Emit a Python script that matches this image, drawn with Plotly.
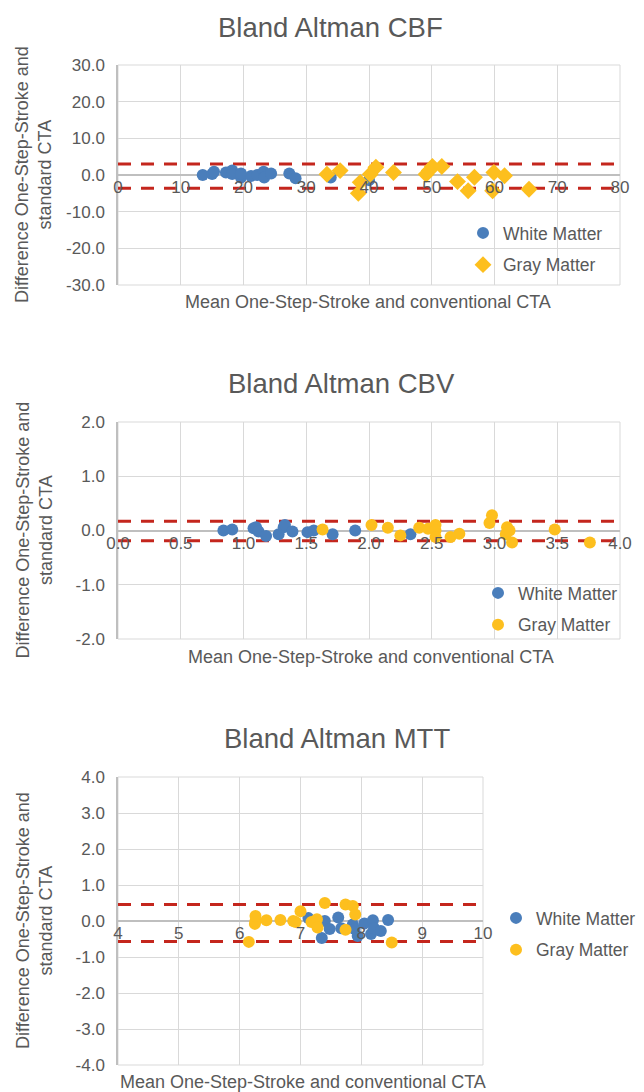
import plotly.graph_objects as go

W, H = 644, 1092
OFF = 8  # default page body margin
FW, FH = W - OFF, H - OFF
FONT = "Liberation Sans, Arial, sans-serif"
TXT = "#595959"
BLUE = "#4A7EBB"
GOLD = "#FDBF1E"
RED = "#C4261D"
GRID = "#D9D9D9"
AXIS = "#BFBFBF"

# ---------------- data ----------------
series_names = ["White Matter", "Gray Matter"]

# CBF
cbf_wm_mean = [13.5, 15.0, 15.3, 17.2, 18.2, 18.2, 19.6, 19.6, 21.2, 22.2, 23.2, 23.3, 24.4, 27.3, 28.3, 33.9, 40.0]
cbf_wm_diff = [0.0, 0.3, 0.9, 0.7, 1.2, 0.3, -0.7, 0.4, -0.3, 0.0, 0.9, -0.7, 0.4, 0.4, -0.9, -0.7, -1.4]
cbf_gm_mean = [33.3, 35.4, 38.3, 38.6, 40.2, 41.1, 43.9, 49.1, 49.6, 50.1, 51.6, 54.1, 55.8, 56.8, 59.7, 59.9, 61.6, 65.5]
cbf_gm_diff = [0.2, 1.2, -5.0, -2.0, 0.2, 2.1, 0.7, 0.2, 1.2, 2.3, 2.3, -1.8, -4.3, -0.6, -4.3, 0.7, -0.2, -3.9]
cbf_limits = [3.0, -3.6]
cbf_x_ticks = [0, 10, 20, 30, 40, 50, 60, 70, 80]
cbf_y_ticks = [-30, -20, -10, 0, 10, 20, 30]

# CBV
cbv_wm_mean = [0.84, 0.91, 1.08, 1.10, 1.12, 1.18, 1.28, 1.32, 1.33, 1.39, 1.51, 1.56, 1.71, 1.89, 2.33]
cbv_wm_diff = [0.00, 0.02, 0.04, 0.06, -0.02, -0.10, -0.07, 0.06, 0.10, -0.02, -0.03, 0.00, -0.07, 0.00, -0.07]
cbv_gm_mean = [1.63, 2.02, 2.15, 2.25, 2.40, 2.47, 2.53, 2.53, 2.53, 2.65, 2.72, 2.96, 2.98, 3.10, 3.09, 3.12, 3.14, 3.48, 3.76]
cbv_gm_diff = [0.02, 0.10, 0.05, -0.09, 0.05, 0.03, 0.10, 0.00, -0.12, -0.12, -0.06, 0.14, 0.28, 0.06, -0.07, 0.00, -0.22, 0.02, -0.22]
cbv_limits = [0.17, -0.19]
cbv_x_ticks = [0.0, 0.5, 1.0, 1.5, 2.0, 2.5, 3.0, 3.5, 4.0]
cbv_y_ticks = [-2, -1, 0, 1, 2]

# MTT
mtt_wm_mean = [7.13, 7.35, 7.40, 7.48, 7.62, 7.67, 7.86, 7.89, 7.94, 8.05, 8.16, 8.19, 8.21, 8.32, 8.44]
mtt_wm_diff = [0.08, -0.47, 0.00, -0.22, 0.10, -0.20, -0.10, -0.22, -0.42, -0.07, -0.36, 0.02, -0.20, -0.28, 0.03]
mtt_gm_mean = [6.15, 6.25, 6.26, 6.26, 6.44, 6.67, 6.88, 6.92, 7.00, 7.18, 7.27, 7.28, 7.40, 7.74, 7.74, 7.86, 7.90, 8.50]
mtt_gm_diff = [-0.58, -0.08, 0.00, 0.14, 0.02, 0.03, 0.00, -0.03, 0.27, -0.03, 0.05, -0.18, 0.50, 0.46, -0.24, 0.42, 0.18, -0.60]
mtt_limits = [0.46, -0.57]
mtt_x_ticks = [4, 5, 6, 7, 8, 9, 10]
mtt_y_ticks = [-4, -3, -2, -1, 0, 1, 2, 3, 4]

titles = ["Bland Altman CBF", "Bland Altman CBV", "Bland Altman MTT"]
x_title = "Mean One-Step-Stroke and conventional CTA"
y_title = "Difference One-Step-Stroke and<br>standard CTA"

# ---------------- layout helpers (page-pixel boxes) ----------------
def fx(p):
    return (p - OFF) / FW

def fy(p):
    return 1 - (p - OFF) / FH

panels = [
    dict(data=(cbf_wm_mean, cbf_wm_diff, cbf_gm_mean, cbf_gm_diff), limits=cbf_limits,
         xt=cbf_x_ticks, yt=cbf_y_ticks, xfmt="{:.0f}", gm_symbol="diamond",
         box=(118, 620, 65, 285), title_pos=(330, 28), xtitle_pos=(368, 302),
         legend=(503, 231)),
    dict(data=(cbv_wm_mean, cbv_wm_diff, cbv_gm_mean, cbv_gm_diff), limits=cbv_limits,
         xt=cbv_x_ticks, yt=cbv_y_ticks, xfmt="{:.1f}", gm_symbol="circle",
         box=(118, 620, 422, 639), title_pos=(341, 383), xtitle_pos=(371, 657),
         legend=(518, 591)),
    dict(data=(mtt_wm_mean, mtt_wm_diff, mtt_gm_mean, mtt_gm_diff), limits=mtt_limits,
         xt=mtt_x_ticks, yt=mtt_y_ticks, xfmt="{:.0f}", gm_symbol="circle",
         box=(118, 483, 777, 1065), title_pos=(337, 738), xtitle_pos=(303, 1082),
         legend=(536, 916)),
]

fig = go.Figure()
layout = dict(
    width=FW, height=FH, autosize=False,
    margin=dict(l=0, r=0, t=0, b=0, autoexpand=False),
    paper_bgcolor="white", plot_bgcolor="white",
    font=dict(family=FONT, color=TXT, size=17),
    showlegend=True,
)
shapes = []
annotations = []

for i, p in enumerate(panels, start=1):
    sfx = "" if i == 1 else str(i)
    xa, ya = "x" + sfx, "y" + sfx
    lg = "legend" + sfx
    wm_x, wm_y, gm_x, gm_y = p["data"]
    x0, x1, yt, yb = p["box"]
    xdom = [fx(x0), fx(x1)]
    ydom = [fy(yb), fy(yt)]
    xr = [p["xt"][0], p["xt"][-1]]
    yr = [p["yt"][0], p["yt"][-1]]
    zero_pos = ydom[0] + (0 - yr[0]) / (yr[1] - yr[0]) * (ydom[1] - ydom[0])

    # limits of agreement (drawn first, under the markers)
    for lim in p["limits"]:
        fig.add_trace(go.Scatter(
            x=xr, y=[lim, lim], mode="lines", showlegend=False, hoverinfo="skip",
            xaxis=xa, yaxis=ya,
            line=dict(color=RED, width=3, dash="13px,10px"),
        ))

    fig.add_trace(go.Scatter(
        x=wm_x, y=wm_y, mode="markers", name=series_names[0],
        xaxis=xa, yaxis=ya, legend=lg, legendgroup=f"wm{i}",
        marker=dict(color=BLUE, size=12, symbol="circle", line=dict(width=0)),
        cliponaxis=False,
    ))
    fig.add_trace(go.Scatter(
        x=gm_x, y=gm_y, mode="markers", name=series_names[1],
        xaxis=xa, yaxis=ya, legend=lg, legendgroup=f"gm{i}",
        marker=dict(color=GOLD, size=12 if p["gm_symbol"] == "circle" else 13,
                    symbol=p["gm_symbol"], line=dict(width=0)),
        cliponaxis=False,
    ))

    layout["xaxis" + sfx] = dict(
        domain=xdom, range=xr, anchor="free", position=zero_pos,
        tickvals=p["xt"], ticktext=[p["xfmt"].format(v) for v in p["xt"]],
        showgrid=True, gridcolor=GRID, gridwidth=1,
        zeroline=False, showline=False, ticks="",
        tickfont=dict(size=17, color=TXT, family=FONT),
        fixedrange=True, automargin=False,
    )
    layout["yaxis" + sfx] = dict(
        domain=ydom, range=yr, anchor=xa,
        tickvals=p["yt"], ticktext=[f"{v:.1f}" for v in p["yt"]],
        showgrid=True, gridcolor=GRID, gridwidth=1,
        zeroline=True, zerolinecolor=AXIS, zerolinewidth=1.5,
        showline=True, linecolor=AXIS, linewidth=1.5,
        ticks="", ticklabelstandoff=8,
        tickfont=dict(size=17, color=TXT, family=FONT),
        fixedrange=True, automargin=False,
    )

    # plot-area frame
    shapes.append(dict(type="rect", xref=xa + " domain", yref=ya + " domain",
                       x0=0, x1=1, y0=0, y1=1, line=dict(color=GRID, width=1),
                       layer="below"))

    tx, ty = p["title_pos"]
    annotations.append(dict(text=titles[i - 1], xref="paper", yref="paper",
                            x=fx(tx), y=fy(ty), xanchor="center", yanchor="middle",
                            showarrow=False, font=dict(size=27.5, color=TXT, family=FONT)))
    xtx, xty = p["xtitle_pos"]
    annotations.append(dict(text=x_title, xref="paper", yref="paper",
                            x=fx(xtx), y=fy(xty), xanchor="center", yanchor="middle",
                            showarrow=False, font=dict(size=18, color=TXT, family=FONT)))
    annotations.append(dict(text=y_title, xref="paper", yref="paper",
                            x=fx(34), y=fy((yt + yb) / 2), xanchor="center", yanchor="middle",
                            textangle=-90, showarrow=False,
                            font=dict(size=18, color=TXT, family=FONT)))

    lx, ly = p["legend"]
    layout[lg] = dict(
        x=fx(lx - 40), y=fy(ly - 16), xanchor="left", yanchor="top",
        bgcolor="rgba(0,0,0,0)", borderwidth=0,
        font=dict(size=17.5, color=TXT, family=FONT),
        traceorder="grouped", tracegroupgap=6,
    )

layout["shapes"] = shapes
layout["annotations"] = annotations
fig.update_layout(**layout)

fig.write_html("out.html")
